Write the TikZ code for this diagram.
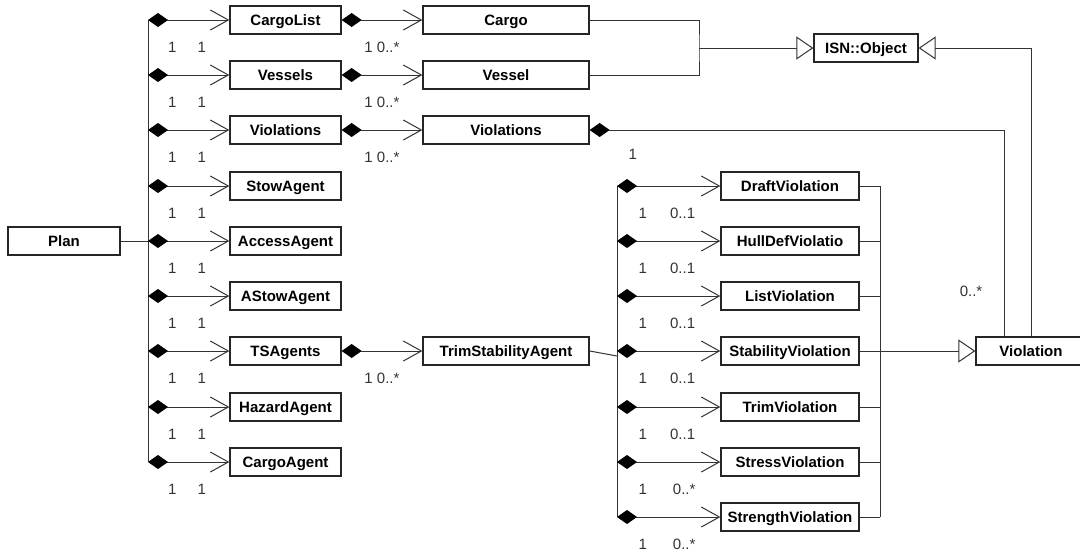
\documentclass[tikz,border=0pt]{standalone}
\usepackage{fontspec}
\setmainfont{Liberation Sans}
\usetikzlibrary{arrows.meta}
\begin{document}
\begin{tikzpicture}[x=1pt, y=-1pt, line width=1pt, color=black!80, font=\fontsize{15}{18}\selectfont]
\tikzstyle{cls}=[draw=black!85, line width=1.3pt, minimum height=28pt, inner sep=0pt, text height=10pt, text depth=0pt, text=black, font=\fontsize{15}{18}\selectfont\bfseries]
\tikzstyle{part}=[cls, minimum width=111pt]
\tikzstyle{item}=[cls, minimum width=166pt]
\tikzstyle{kind}=[cls, minimum width=138pt]
\tikzstyle{comp}=[{Diamond[length=20pt,width=14pt,black]}-{Straight Barb[length=18pt,width=20pt]}]
\tikzstyle{gen}=[-{Triangle[open,length=17pt,width=23pt]}]
\tikzstyle{mult}=[inner sep=0pt, yshift=-27pt]
\tikzstyle{note}=[inner sep=0pt]
\useasboundingbox (0,0) rectangle (1080,552);

% Plan and its parts
\node[cls, minimum width=112pt] (Plan) at (64,241) {Plan};
\node[part] (CargoList) at (285.5,20) {CargoList};
\node[part] (Vessels) at (285.5,75) {Vessels};
\node[part] (Violations) at (285.5,130) {Violations};
\node[part] (StowAgent) at (285.5,186) {StowAgent};
\node[part] (AccessAgent) at (285.5,241) {AccessAgent};
\node[part] (AStowAgent) at (285.5,296) {AStowAgent};
\node[part] (TSAgents) at (285.5,351) {TSAgents};
\node[part] (HazardAgent) at (285.5,407) {HazardAgent};
\node[part] (CargoAgent) at (285.5,462) {CargoAgent};

\node[item] (Cargo) at (506,20) {Cargo};
\node[item] (Vessel) at (506,75) {Vessel};
\node[item] (ViolationList) at (506,130) {Violations};
\node[item] (TrimStabilityAgent) at (506,351) {TrimStabilityAgent};

\node[cls, minimum width=104pt] (ISN) at (866,48) {ISN::Object};
\node[cls, minimum width=110pt] (Violation) at (1031,351) {Violation};

% kinds of violation
\node[kind] (DraftViolation) at (790,186) {DraftViolation};
\node[kind] (HullDefViolation) at (790,241) {HullDefViolatio};
\node[kind] (ListViolation) at (790,296) {ListViolation};
\node[kind] (StabilityViolation) at (790,351) {StabilityViolation};
\node[kind] (TrimViolation) at (790,407) {TrimViolation};
\node[kind] (StressViolation) at (790,462) {StressViolation};
\node[kind] (StrengthViolation) at (790,517) {StrengthViolation};

\coordinate (busT) at (148,20);
\coordinate (busB) at (148,462);
\coordinate (vbusT) at (617,186);
\coordinate (vbusB) at (617,517);
\coordinate (rbusT) at (880,186);
\coordinate (rbusB) at (880,517);
\coordinate (tsJoin) at (617,356);
\coordinate (objJoin) at (699,48);

\draw (busT) -- (busB);
\draw (Plan.east) -- (Plan.east -| busT);

\draw[comp] (CargoList.west -| busT) -- node[mult, pos=.3]{1} node[mult, pos=.66]{1} (CargoList.west);
\draw[comp] (Vessels.west -| busT) -- node[mult, pos=.3]{1} node[mult, pos=.66]{1} (Vessels.west);
\draw[comp] (Violations.west -| busT) -- node[mult, pos=.3]{1} node[mult, pos=.66]{1} (Violations.west);
\draw[comp] (StowAgent.west -| busT) -- node[mult, pos=.3]{1} node[mult, pos=.66]{1} (StowAgent.west);
\draw[comp] (AccessAgent.west -| busT) -- node[mult, pos=.3]{1} node[mult, pos=.66]{1} (AccessAgent.west);
\draw[comp] (AStowAgent.west -| busT) -- node[mult, pos=.3]{1} node[mult, pos=.66]{1} (AStowAgent.west);
\draw[comp] (TSAgents.west -| busT) -- node[mult, pos=.3]{1} node[mult, pos=.66]{1} (TSAgents.west);
\draw[comp] (HazardAgent.west -| busT) -- node[mult, pos=.3]{1} node[mult, pos=.66]{1} (HazardAgent.west);
\draw[comp] (CargoAgent.west -| busT) -- node[mult, pos=.3]{1} node[mult, pos=.66]{1} (CargoAgent.west);

\draw[comp] (CargoList.east) -- node[mult]{1 0..*} (Cargo.west);
\draw[comp] (Vessels.east) -- node[mult]{1 0..*} (Vessel.west);
\draw[comp] (Violations.east) -- node[mult]{1 0..*} (ViolationList.west);
\draw[comp] (TSAgents.east) -- node[mult]{1 0..*} (TrimStabilityAgent.west);

% generalisation to ISN::Object
\draw (Cargo.east) -| (objJoin) |- (Vessel.east);
\draw[gen] (objJoin) -- (ISN.west);
\draw[gen] (Violation.north) |- (ISN.east);

\draw[{Diamond[length=20pt,width=14pt,black]}-] (ViolationList.east) -| node[note, pos=.052, yshift=-24pt]{1} node[note, pos=.89, xshift=-33pt]{0..*} ([xshift=-27pt]Violation.north);

% TrimStabilityAgent owns the violations
\draw (TrimStabilityAgent.east) -- (tsJoin);
\draw (vbusT) -- (vbusB);
\draw[comp] (DraftViolation.west -| vbusT) -- node[mult, pos=.25]{1} node[mult, pos=.635]{0..1} (DraftViolation.west);
\draw[comp] (HullDefViolation.west -| vbusT) -- node[mult, pos=.25]{1} node[mult, pos=.635]{0..1} (HullDefViolation.west);
\draw[comp] (ListViolation.west -| vbusT) -- node[mult, pos=.25]{1} node[mult, pos=.635]{0..1} (ListViolation.west);
\draw[comp] (StabilityViolation.west -| vbusT) -- node[mult, pos=.25]{1} node[mult, pos=.635]{0..1} (StabilityViolation.west);
\draw[comp] (TrimViolation.west -| vbusT) -- node[mult, pos=.25]{1} node[mult, pos=.635]{0..1} (TrimViolation.west);
\draw[comp] (StressViolation.west -| vbusT) -- node[mult, pos=.25]{1} node[mult, pos=.65]{0..*} (StressViolation.west);
\draw[comp] (StrengthViolation.west -| vbusT) -- node[mult, pos=.25]{1} node[mult, pos=.65]{0..*} (StrengthViolation.west);

% all kinds are a Violation
\draw (rbusT) -- (rbusB);
\draw (DraftViolation.east) -- (DraftViolation.east -| rbusT);
\draw (HullDefViolation.east) -- (HullDefViolation.east -| rbusT);
\draw (ListViolation.east) -- (ListViolation.east -| rbusT);
\draw (TrimViolation.east) -- (TrimViolation.east -| rbusT);
\draw (StressViolation.east) -- (StressViolation.east -| rbusT);
\draw (StrengthViolation.east) -- (StrengthViolation.east -| rbusT);
\draw[gen] (StabilityViolation.east) -- (Violation.west);
\end{tikzpicture}
\end{document}
